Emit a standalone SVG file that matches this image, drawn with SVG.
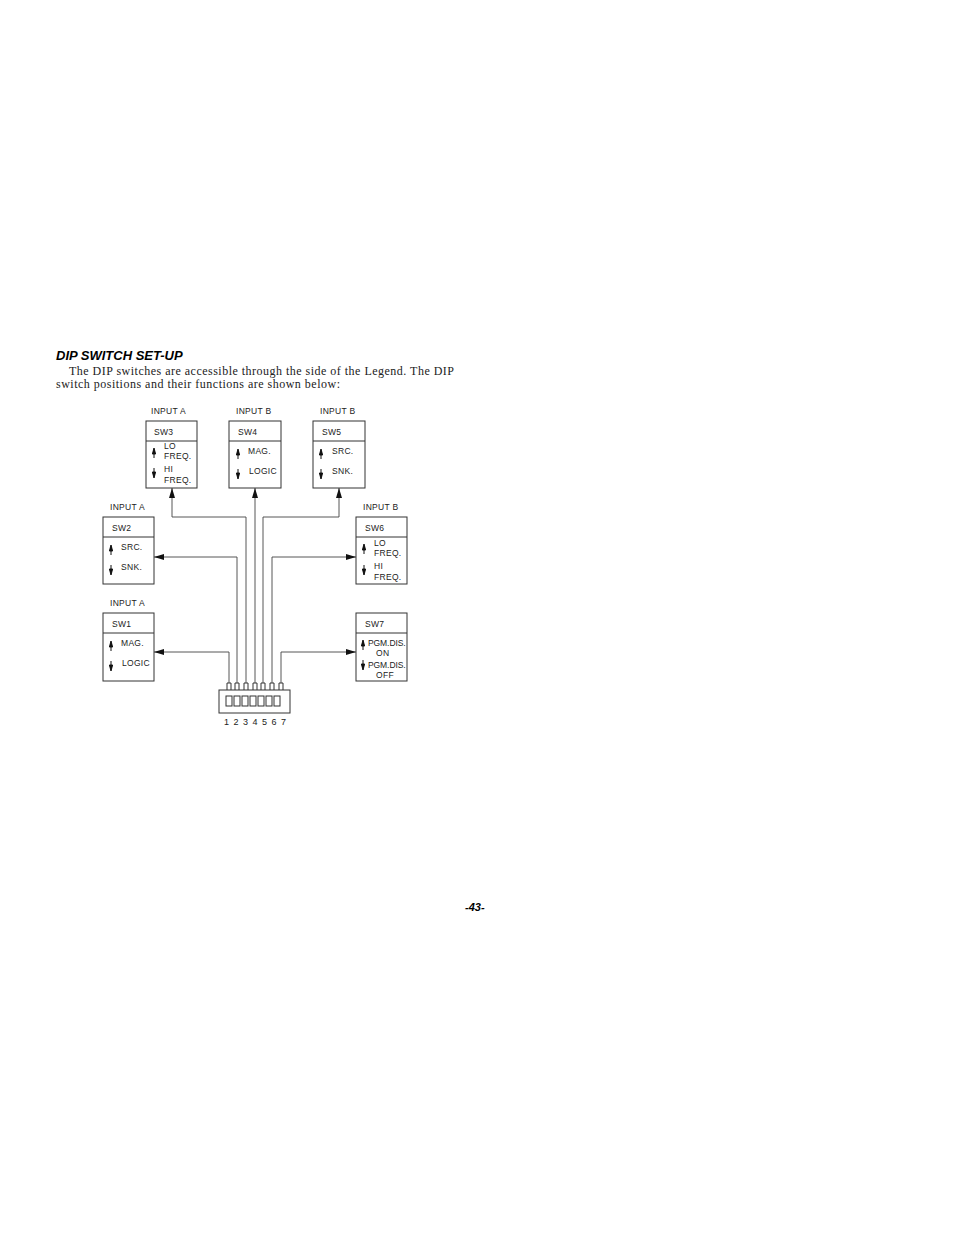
<svg xmlns="http://www.w3.org/2000/svg" width="954" height="1235" viewBox="0 0 954 1235">
<style>
.b{fill:none;stroke:#333;stroke-width:1}
.l{fill:none;stroke:#444;stroke-width:0.9}
.t{font-family:"Liberation Sans",Arial,sans-serif;font-size:8.5px;fill:#222;letter-spacing:0.3px}
.n{font-family:"Liberation Sans",Arial,sans-serif;font-size:9px;fill:#222}
</style>
<defs>
<marker id="a" viewBox="0 0 10 6" refX="10" refY="3" markerWidth="14" markerHeight="6" markerUnits="userSpaceOnUse" orient="auto"><path d="M0,0L10,3L0,6z" fill="#111"/></marker>
<path id="up" d="M0,7V-1M-1.6,3L0,-3L1.6,3z" stroke="#111" stroke-width="1" fill="#111"/>
<path id="dn" d="M0,-7V1M-1.6,-3L0,3L1.6,-3z" stroke="#111" stroke-width="1" fill="#111"/>
</defs>
<rect width="954" height="1235" fill="#fff"/>
<text x="56" y="360" font-family="Liberation Sans,Arial,sans-serif" font-size="13" font-weight="bold" font-style="italic">DIP SWITCH SET-UP</text>
<text font-family="Liberation Serif,Times New Roman,serif" font-size="12" fill="#222"><tspan x="69" y="375" textLength="385">The DIP switches are accessible through the side of the Legend. The DIP</tspan><tspan x="56" y="388" textLength="284">switch positions and their functions are shown below:</tspan></text>
<text x="465" y="911" font-family="Liberation Sans,Arial,sans-serif" font-size="11" font-weight="bold" font-style="italic">-43-</text>

<g id="sw3"><text class="t" x="151" y="414">INPUT  A</text><rect class="b" x="146" y="421" width="51" height="67"/><line class="b" x1="146" y1="441" x2="197" y2="441"/><text class="t" x="154" y="435">SW3</text><use href="#up" x="154" y="451"/><use href="#dn" x="154" y="475"/><text class="t" x="164" y="449">LO</text><text class="t" x="164" y="459">FREQ.</text><text class="t" x="164" y="472">HI</text><text class="t" x="164" y="483">FREQ.</text></g>
<g id="sw4"><text class="t" x="236" y="414">INPUT  B</text><rect class="b" x="229" y="421" width="52" height="67"/><line class="b" x1="229" y1="441" x2="281" y2="441"/><text class="t" x="238" y="435">SW4</text><use href="#up" x="238" y="452"/><use href="#dn" x="238" y="476"/><text class="t" x="248" y="454">MAG.</text><text class="t" x="249" y="474">LOGIC</text></g>
<g id="sw5"><text class="t" x="320" y="414">INPUT  B</text><rect class="b" x="313" y="421" width="52" height="67"/><line class="b" x1="313" y1="441" x2="365" y2="441"/><text class="t" x="322" y="435">SW5</text><use href="#up" x="321" y="452"/><use href="#dn" x="321" y="476"/><text class="t" x="332" y="454">SRC.</text><text class="t" x="332" y="474">SNK.</text></g>
<g id="sw2"><text class="t" x="110" y="510">INPUT  A</text><rect class="b" x="103" y="517" width="51" height="67"/><line class="b" x1="103" y1="537" x2="154" y2="537"/><text class="t" x="112" y="531">SW2</text><use href="#up" x="111" y="548"/><use href="#dn" x="111" y="572"/><text class="t" x="121" y="550">SRC.</text><text class="t" x="121" y="570">SNK.</text></g>
<g id="sw6"><text class="t" x="363" y="510">INPUT  B</text><rect class="b" x="356" y="517" width="51" height="67"/><line class="b" x1="356" y1="537" x2="407" y2="537"/><text class="t" x="365" y="531">SW6</text><use href="#up" x="364" y="547"/><use href="#dn" x="364" y="572"/><text class="t" x="374" y="546">LO</text><text class="t" x="374" y="556">FREQ.</text><text class="t" x="374" y="569">HI</text><text class="t" x="374" y="580">FREQ.</text></g>
<g id="sw1"><text class="t" x="110" y="606">INPUT  A</text><rect class="b" x="103" y="613" width="51" height="68"/><line class="b" x1="103" y1="633" x2="154" y2="633"/><text class="t" x="112" y="627">SW1</text><use href="#up" x="111" y="644"/><use href="#dn" x="111" y="668"/><text class="t" x="121" y="646">MAG.</text><text class="t" x="122" y="666">LOGIC</text></g>
<g id="sw7"><rect class="b" x="356" y="613" width="51" height="68"/><line class="b" x1="356" y1="633" x2="407" y2="633"/><text class="t" x="365" y="627">SW7</text><use href="#up" x="363" y="643"/><use href="#dn" x="363" y="667"/><text class="t" x="368" y="646" textLength="38">PGM.DIS.</text><text class="t" x="376" y="656">ON</text><text class="t" x="368" y="668" textLength="38">PGM.DIS.</text><text class="t" x="376" y="678">OFF</text></g>

<g id="dip">
<rect class="b" x="219" y="690" width="71" height="23"/>
<g class="b"><rect x="226" y="696" width="6" height="10"/><rect x="234" y="696" width="6" height="10"/><rect x="242" y="696" width="6" height="10"/><rect x="250" y="696" width="6" height="10"/><rect x="258" y="696" width="6" height="10"/><rect x="266" y="696" width="6" height="10"/><rect x="274" y="696" width="6" height="10"/></g>
<g class="b"><path d="M227,690v-7h4v7M235,690v-7h4v7M244,690v-7h4v7M253,690v-7h4v7M261,690v-7h4v7M270,690v-7h4v7M279,690v-7h4v7"/></g>
<text class="n" x="224" y="725" textLength="62">1234567</text>
</g>

<g id="connectors">
<path class="l" d="M229,683V652H154" marker-end="url(#a)"/>
<path class="l" d="M237,683V557H154" marker-end="url(#a)" stroke="#999"/>
<path class="l" d="M246,683V517H172V488" marker-end="url(#a)"/>
<path class="l" d="M255,683V488" marker-end="url(#a)"/>
<path class="l" d="M263,683V517H339V488" marker-end="url(#a)"/>
<path class="l" d="M272,683V557H356" marker-end="url(#a)"/>
<path class="l" d="M281,683V652H356" marker-end="url(#a)"/>
</g>
</svg>
